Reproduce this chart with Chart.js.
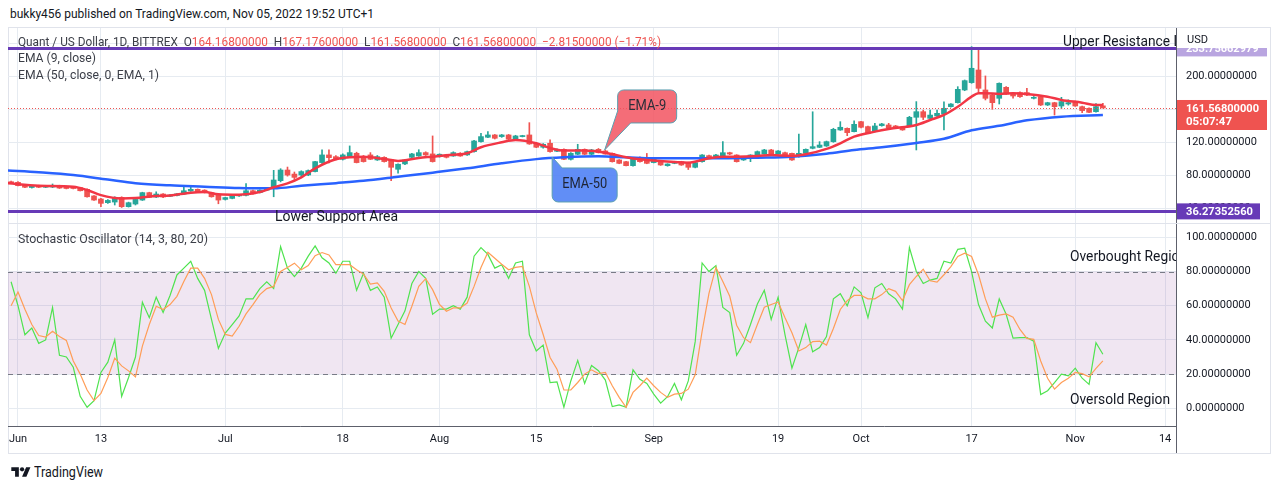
<!DOCTYPE html>
<html><head><meta charset="utf-8">
<script src="https://cdn.jsdelivr.net/npm/chart.js@4.4.0/dist/chart.umd.min.js"></script>
<style>
html,body{margin:0;padding:0;background:#fff;}
body{width:1280px;height:489px;position:relative;overflow:hidden;font-family:Roboto,"Open Sans",sans-serif;}
#hdr{position:absolute;left:10px;top:6px;font-size:13px;line-height:16px;color:#131722;white-space:nowrap;transform-origin:0 0;}
#frame{position:absolute;left:8px;top:27px;width:1261px;height:425px;border:1px solid #e0e3eb;}
canvas{position:absolute;}
#cA{left:8px;top:28px;}
#cB{left:8px;top:223px;}
#vsep{position:absolute;left:1176px;top:426px;width:1px;height:27px;background:#5d606b;}
#foot{position:absolute;left:11px;top:463px;height:17px;display:flex;align-items:center;}
#foot span{font-size:14px;color:#131722;margin-left:3px;white-space:nowrap;transform-origin:0 50%;display:inline-block;}
</style></head><body>
<div id="hdr">bukky456 published on TradingView.com, Nov 05, 2022 19:52 UTC+1</div>
<div id="frame"></div>
<canvas id="cA" width="1262" height="195"></canvas>
<canvas id="cB" width="1262" height="230"></canvas>
<div id="vsep"></div>
<div id="foot"><svg width="20" height="14" viewBox="0 0 36 26"><path d="M14 22H7V11H0V4h14v18zM28 22h-8l7.5-18h8L28 22z" fill="#131722"/><circle cx="20" cy="8" r="4" fill="#131722"/></svg><span id="tvtxt">TradingView</span></div>
<script>
// ===== DATA (day 0 = Jun 1 2022, first candle = May 31) =====
const firstDay = -1;
const opens = [
 72,71.5,68,65.2,67.5,65.5,65.8,67.5,66,66,65,
 63,55,51.3,46.8,47.6,53.3,42,45.2,50,59,
 53.7,57.3,54.5,55.5,57.3,61,63,62,58.9,56,
 50.8,52,55,55.7,61.3,59,62,64.2,73.5,86.4,
 81.5,80.4,80.4,84.5,95.4,104.7,102.6,99.4,102.6,106.7,
 102.6,104.7,98.6,101.8,98.6,87.3,93.8,101.8,103.4,107.5,
 105.9,102.6,104.7,103.4,106.7,104.7,108.7,120.8,126.1,128.9,
 126.9,128.9,123.7,126.9,128.9,118.8,114,118.8,109.1,111.5,
 99.4,105.5,111.5,105.5,111.5,109.5,106.6,98.6,96.5,91.7,
 100.6,100.6,95.4,96.5,91.7,94.5,96.5,95.3,89.7,96.5,
 103.4,102.6,103.4,107.4,104.6,98.6,100.6,103.8,105.8,110.7,
 105.8,107.4,106.6,102.6,106.6,112.7,113.9,115.5,120.8,134.9,
 136.9,132.9,145,139,132.9,140.2,141,139.8,137.5,139.8,
 150.3,157.1,149,151.9,154.3,163.2,168,183.4,192.3,207.6,
 183.4,177.3,173.3,186.6,178.5,180.2,180.2,173.3,175.3,165.2,
 168,164,166.4,169.3,163.2,161.2,157.1,164.168];
const highs = [
 73,72.5,68.5,67.5,68,67.8,69.5,68,66.8,66.5,65.5,
 63.5,55.5,52,50.5,54,54,47.5,51.5,59.5,59.5,
 60,58,56.5,58,66,66,63.5,62.5,59.5,56.5,
 53.5,56,57,70,62,62.5,64.5,86,88,90,
 84,85.5,86.5,97,111,111,104,106,115.6,108,
 104,107.5,104,102.5,99.5,94,99,106.5,111,108.5,
 127.7,106,105.5,108.5,107.5,109.5,122.5,131,133,129.5,
 129.5,129.5,128.5,128.5,143.8,119.5,118.5,123,112,112,
 107.5,117.6,112,111.5,112.5,110.5,107,99,97,101,
 102.5,106.5,100,97,94,97,97,96,96,105,
 104.5,105.5,120.8,108,105,103,105,109.5,111.5,111.5,
 110,108,107,130,112,157,120.8,121.5,137,145,
 137.5,146,145.5,139.5,143,143,143,140.5,138.5,151.5,
 169.3,159,159,159,169,167,187.4,195.5,235.9,235,
 200.4,178,192,187.5,179,181,185.4,175.5,176,168.5,
 168.5,174.5,171.5,170,163.8,161.8,167,167.176];
const lows = [
 70,67,65,64.5,65,65,65,64,63.5,63.5,61,
 53.5,49.5,42,46,44,41,41.5,44,49.5,53,
 53,53,54,55,57,60.5,59.5,58.5,53.5,45.5,
 50,51.5,54.5,55,57,58.5,61.5,54,72,79,
 75,78.5,79.5,84,94.5,95,98.5,98.5,102,95,
 96,99,98,96,73.5,82.5,93,101,103,104,
 96,102,101,103,103,104,108,120,125.5,124,
 126,123,123,126.5,117.5,113.5,113,108,108.5,99,
 98.5,105,105,105,107,105.5,96,94,91.5,91,
 96,94,95,92,91,94,92,87,89,96,
 102,102,103,105,96,98,96.5,103.5,105.5,104,
 105.5,103,98,102,106,112,113.5,115,120,134.5,
 128,132.5,137.5,130.5,132.5,139.5,136.5,136.5,134.5,139,
 110.7,147.5,148.5,151.5,135,162.5,167.5,182.5,191.5,179.4,
 171.3,160,166.4,178,173.5,174.5,176.5,172.5,164.5,164.5,
 153,161,165,163.5,156,155.8,156.5,161.568];
const closes = [
 71,67.5,65.5,67,65.5,67.2,67.5,64.5,64,64,61.3,
 54,50,46,49.6,52,42,46.8,50.8,59,53.3,
 57.3,53.7,56,57.5,61.3,63,60,59,54,50,
 53,55.5,56.5,61.3,57.5,62,64,74.3,86.4,80.3,
 77.5,84.5,85.7,96.6,104.7,101.4,99.4,104.7,107.5,95.4,
 96.6,99.4,102.6,96.6,89.7,93.4,98.6,105.9,107.5,104.7,
 96.6,105.5,101.8,107.5,103.4,108.7,121.6,126.9,128.9,124.9,
 128.9,123.7,127.7,128.1,118,114,117.6,108.7,111.5,99.4,
 106.7,111.5,105.5,110.7,107.5,105.8,96.5,94.5,91.7,100.6,
 96.5,94.5,99.4,92.5,93.7,96.5,92.5,89.7,95.3,104.6,
 102.6,104.6,107.4,105.8,96.5,102.6,104.6,108.7,110.7,104.6,
 109.5,103.4,98.6,106.6,111.5,114.7,116.7,120.8,135.7,138.2,
 131.7,141.8,138.2,130.9,139.8,142.2,137.5,136.9,135,150.3,
 157.1,150.3,153,155.1,161.2,166.4,184.2,194.7,209.7,185.4,
 173.3,168,191.5,178.5,176.1,175.3,177.3,174.5,165.2,168,
 163.2,169.3,168,164,158.4,156.3,163.2,161.568];

const ema9Days = [-1.5,3,8,10,12,15,17,20,22,25,27,29,32,35,37,39,41,43,46,48,50,53,55,58,60,62,65,67,70,72,75,77,79,82,85,88,90,92,95,97,100,102,104,107,109,112,114,117,119,121,124,126,130,132,134,136,138,139,140,142,144,146,149,151,154,156,157];
const ema9 = [70.3,67.4,66.2,62.2,56,52,52.5,54.9,55.5,59,59.7,57,56.5,59.7,65.5,70.2,77.5,88.5,99.5,101.8,102.6,99.8,97.4,101,102.6,104.3,106.7,114,120,122.8,118.8,113,110,110,107.4,102,99.4,97.8,96.1,95.3,100.6,102.6,102.6,103.4,104.6,103.4,105.4,112,118.8,126.8,132.9,136.1,141,147,153.1,163,175.3,179.4,179.4,178.6,179.4,178.6,175.3,171.3,168,165.2,165.2];
const ema50Days = [-1.5,3,8,13,17,22,27,32,37,41,46,50,55,60,65,70,75,79,84,88,92,97,102,107,112,117,121,125,130,134,138,142,146,151,157];
const ema50 = [85.8,83.6,80.3,74.8,70.5,67.8,66.2,64.6,64.2,67.3,70.5,73.3,78.2,83.2,88.5,94.6,99.6,101.8,103,101.8,100.6,100.6,100.6,101.4,102.6,106.2,110.7,114,119.2,124.2,134.5,140,146.6,151.1,153.1];

const stochK = [
 74,60,43,47,38,40,59,31,30,24,7,
 0.6,4.5,21,27,40,7,18,30,62,53,
 65,56,66,78,82,86,76,69,52,35,
 44,49,54,64,64,70,74,70,94.6,82,
 77,82,89,95,88,85,79,86,86,69,
 79,69,71,65,41,49,57,73,80,76,
 55,58,58,60,58,65,89,94,90,82,
 84,76,85,86,43,33.5,37,15,15.5,0.6,
 16,28,14.5,25,22,16.5,1,2,0.6,22.5,
 17,14.5,8.3,3,6.8,14.5,5,16,39,85,
 80,83.5,59,56,31,38,49,61,69,52,
 65,43,23.5,35.5,49,33,35.5,42,64,67,
 60,71,67.5,53,70.5,73,67,64,58,94,
 80,73,75,76,86,85,93,93.6,80,60.7,
 51,47,64,55,41,41.3,41.3,39.3,8,10.3,
 15,20,19,23.5,17.6,14,38.4,31.6];
const stochD = [
 60,68,58,49,42.6,41.7,45,42,39.7,27.7,20,
 10.7,4.5,8.7,18,29.3,24.8,21.9,18.4,36.4,49,
 59.7,57.8,60.7,65.5,74.2,82,82,76,66.5,52,
 43.2,42.2,48,55.2,60.7,66.5,70,71.3,80,82.4,
 84.9,81,83.5,89.3,91.1,89.7,84,84,84,81,
 78.5,72.7,73.3,68.4,58.7,51,49,59.7,71.3,75.8,
 69.4,60.7,56.8,58.7,58.7,61.6,71.3,82.4,91.3,87.8,
 84.3,81,82.4,83,71.3,55.8,43.2,29.7,22.9,10.7,
 10.7,15.1,20,22.5,20.3,21,13.2,6.4,0.6,9.3,
 13.2,17.6,13.2,9.3,6.4,8.3,8.7,11.2,19.6,45,
 67.4,82.4,74.2,65.5,48.6,41.3,38.4,49,59.1,60.7,
 62.2,52.9,44.2,33.5,35.5,39,39.3,37,46.7,57.8,
 63,66,66,64,64,66.5,70,68.4,63,72.3,
 77.1,81.4,74.6,73.8,78.1,82.9,88.8,90.7,88.8,78.1,
 64,53.3,54.5,55.2,53.3,46.1,40.9,40.3,27.7,17.6,
 11.2,15.1,17.6,21,20.3,18.4,23.4,27.7];

const tickDays = [0,12,30,47,61,75,92,110,122,138,153,166];
const tickLabels = ['Jun','13','Jul','18','Aug','15','Sep','19','Oct','17','Nov','14'];
const priceTicks = [40,80,120,160,200,240];
const stochTicks = [0,20,40,60,80,100];

const upperResistance = 233.75662979;
const lowerSupport = 36.2735256;
const stochUpper = 80, stochLower = 20;
const legendChange = -2.815, legendChangePct = -1.71;
const countdown = '05:07:47';
const ema9Callout = {day: 84.9, price: 110.7};
const ema50Callout = {day: 77.3, price: 102.2};

// view range
const xMin = -1.447, xMax = 167.58;
const priceMin = 22.2, priceMax = 258.5;
const stochMin = -10.35, stochMax = 107.8;

// ===== STYLE =====
const FONT = 'Roboto, "Open Sans", sans-serif';
const gridColor = '#e6ebf1';
const axisColor = '#5d606b';
const textColor = '#131722';
const upCol = '#26a69a', dnCol = '#ef5350';
Chart.defaults.font.family = FONT;
Chart.defaults.animation = false;

const dayIndex = opens.map((_, i) => firstDay + i);
const n = opens.length;
const candleColors = opens.map((o, i) => closes[i] >= o ? upCol : dnCol);
const lastOpen = opens[n-1], lastHigh = highs[n-1], lastLow = lows[n-1], lastClose = closes[n-1];

function fitText(ctx, text, x, y, w, font, color, align, refText) {
  ctx.save();
  ctx.font = font; ctx.textBaseline = 'middle'; ctx.textAlign = 'left';
  const m = ctx.measureText(text).width;
  const r = refText ? ctx.measureText(refText).width : m;
  const s = w / r;
  ctx.translate(x, y); ctx.scale(s, 1);
  ctx.fillStyle = color;
  const ox = align === 'center' ? -m/2 : (align === 'right' ? -m : 0);
  ctx.fillText(text, ox, 0);
  ctx.restore();
}
function drawRuns(ctx, runs, x, y, w, font) {
  ctx.save();
  ctx.font = font; ctx.textBaseline = 'middle'; ctx.textAlign = 'left';
  const total = runs.reduce((s, r) => s + ctx.measureText(r[0]).width, 0);
  ctx.translate(x, y); ctx.scale(w / total, 1);
  let cx = 0;
  runs.forEach(([t, c]) => { ctx.fillStyle = c; ctx.fillText(t, cx, 0); cx += ctx.measureText(t).width; });
  ctx.restore();
}
function noPad(s) { s.paddingTop = 0; s.paddingBottom = 0; s.paddingLeft = 0; s.paddingRight = 0; }

function xScale(showLabels) {
  return {
    type: 'linear', min: xMin, max: xMax, offset: false, bounds: 'data',
    afterBuildTicks: s => { s.ticks = tickDays.map(v => ({value: v})); },
    ticks: {display: showLabels, autoSkip: false, maxRotation: 0, padding: 7, color: textColor,
            font: {family: FONT, size: 11}, callback: (v, i) => tickLabels[i]},
    grid: {color: gridColor, drawTicks: false, offset: false},
    border: {display: showLabels, color: axisColor},
    afterFit: s => { s.height = showLabels ? 27 : 0; noPad(s); }
  };
}
function yScale(min, max, ticks) {
  return {
    position: 'right', min: min, max: max, bounds: 'data',
    afterBuildTicks: s => { s.ticks = ticks.map(v => ({value: v})); },
    ticks: {padding: 10, color: textColor, font: {family: FONT, size: 11}, callback: v => Number(v).toFixed(8)},
    grid: {color: gridColor, drawTicks: false},
    border: {display: true, color: axisColor},
    afterFit: s => { s.width = 94; noPad(s); }
  };
}

function calloutPath(ctx, pts) {
  ctx.beginPath();
  ctx.moveTo(pts[0][0], pts[0][1]);
  for (let i = 1; i < pts.length; i++) {
    const p = pts[i];
    if (p.length === 5) ctx.arcTo(p[0], p[1], p[2], p[3], p[4]);
    else ctx.lineTo(p[0], p[1]);
  }
  ctx.closePath();
}

const overlayA = {
  id: 'overlayA',
  afterDraw(chart) {
    const {ctx, chartArea: a, scales: {x, y}} = chart;
    const W = chart.width;
    const yUp = y.getPixelForValue(upperResistance);
    const yLo = y.getPixelForValue(lowerSupport);
    const yLast = y.getPixelForValue(lastClose);
    const red = '#ef5350', dark = '#131722', legendCol = '#3b3e47';
    ctx.save();
    ctx.beginPath(); ctx.rect(a.left, a.top, a.right - a.left, a.bottom - a.top); ctx.clip();
    ctx.strokeStyle = red; ctx.lineWidth = 1; ctx.setLineDash([1, 2]);
    ctx.beginPath(); ctx.moveTo(a.left, Math.round(yLast) + 0.5); ctx.lineTo(a.right, Math.round(yLast) + 0.5); ctx.stroke();
    ctx.setLineDash([]);
    ctx.strokeStyle = '#673ab7'; ctx.lineWidth = 3;
    [yUp, yLo].forEach(v => { ctx.beginPath(); ctx.moveTo(a.left, v); ctx.lineTo(a.right, v); ctx.stroke(); });
    fitText(ctx, 'Upper Resistance Level', a.left + 1055, yUp - 5.5, 107, '14px ' + FONT, dark, 'left', 'Upper Resistance');
    fitText(ctx, 'Lower Support Area', a.left + 267, yLo + 6.5, 123, '14px ' + FONT, dark, 'left');
    // legend
    const f = v => v.toFixed(8);
    drawRuns(ctx, [
      ['Quant / US Dollar, 1D, BITTREX  ', legendCol], ['O', legendCol], [f(lastOpen), red],
      ['  H', legendCol], [f(lastHigh), red], ['  L', legendCol], [f(lastLow), red],
      ['  C', legendCol], [f(lastClose), red],
      ['  \u2212' + Math.abs(legendChange).toFixed(8) + ' (\u2212' + Math.abs(legendChangePct).toFixed(2) + '%)', red]
    ], a.left + 10, 14.5, 643, '13px ' + FONT);
    fitText(ctx, 'EMA (9, close)', a.left + 10, 31, 78, '13px ' + FONT, legendCol, 'left');
    fitText(ctx, 'EMA (50, close, 0, EMA, 1)', a.left + 10, 47.5, 141, '13px ' + FONT, legendCol, 'left');

    // callout EMA-9
    const t9x = x.getPixelForValue(ema9Callout.day), t9y = y.getPixelForValue(ema9Callout.price);
    const b9x = t9x + 13, b9y = t9y - 60, w9 = 59, h9 = 33, r = 6;
    calloutPath(ctx, [
      [b9x + r, b9y], [b9x + w9 - r, b9y], [b9x + w9, b9y, b9x + w9, b9y + r, r],
      [b9x + w9, b9y + h9 - r], [b9x + w9, b9y + h9, b9x + w9 - r, b9y + h9, r],
      [b9x + 13, b9y + h9], [t9x, t9y], [b9x, b9y + h9 - 12], [b9x, b9y + r],
      [b9x, b9y, b9x + r, b9y, r]
    ]);
    ctx.fillStyle = 'rgba(242,84,96,0.85)'; ctx.fill();
    ctx.strokeStyle = '#5b9fb0'; ctx.lineWidth = 1; ctx.stroke();
    fitText(ctx, 'EMA-9', b9x + w9/2, b9y + 16.5, 38, '14px ' + FONT, '#2a2e39', 'center');

    // callout EMA-50
    const t5x = x.getPixelForValue(ema50Callout.day), t5y = y.getPixelForValue(ema50Callout.price);
    const b5x = t5x, b5y = t5y + 11, w5 = 65, h5 = 34;
    calloutPath(ctx, [
      [t5x, t5y], [b5x + 10, b5y], [b5x + w5 - r, b5y], [b5x + w5, b5y, b5x + w5, b5y + r, r],
      [b5x + w5, b5y + h5 - r], [b5x + w5, b5y + h5, b5x + w5 - r, b5y + h5, r],
      [b5x + r, b5y + h5], [b5x, b5y + h5, b5x, b5y + h5 - r, r]
    ]);
    ctx.fillStyle = 'rgba(80,130,245,0.9)'; ctx.fill();
    ctx.strokeStyle = '#5b9fb0'; ctx.lineWidth = 1; ctx.stroke();
    fitText(ctx, 'EMA-50', b5x + w5/2, b5y + 17, 45, '14px ' + FONT, '#1e2433', 'center');
    ctx.restore();

    // right axis overlays
    ctx.save();
    const ax = a.right + 1;
    ctx.fillStyle = '#b9a5e0';
    ctx.fillRect(ax, yUp - 8, 90, 16);
    ctx.fillStyle = '#ffffff'; ctx.font = 'bold 11px ' + FONT; ctx.textBaseline = 'middle';
    ctx.fillText(upperResistance.toFixed(8), ax + 9, yUp + 1);
    ctx.fillStyle = '#ffffff';
    ctx.fillRect(ax, 0, W - ax, Math.round(yUp));
    fitText(ctx, 'USD', ax + 10, 12, 21, '11px ' + FONT, dark, 'left');
    // last price label
    ctx.fillStyle = '#ef5350';
    ctx.fillRect(ax, yLast - 8, 90, 30);
    fitText(ctx, lastClose.toFixed(8), ax + 9, yLast + 1, 73, 'bold 11px ' + FONT, '#ffffff', 'left');
    fitText(ctx, countdown, ax + 9, yLast + 14.5, 46, 'bold 11px ' + FONT, '#ffffff', 'left');
    // lower support label
    ctx.fillStyle = '#673ab7';
    ctx.fillRect(ax, yLo - 8, 83, 16);
    fitText(ctx, lowerSupport.toFixed(8), ax + 9, yLo + 0.5, 67, 'bold 11px ' + FONT, '#ffffff', 'left');
    ctx.restore();
  }
};

const overlayB = {
  id: 'overlayB',
  beforeDatasetsDraw(chart) {
    const {ctx, chartArea: a, scales: {y}} = chart;
    const y80 = y.getPixelForValue(stochUpper), y20 = y.getPixelForValue(stochLower);
    ctx.save();
    ctx.fillStyle = 'rgba(149,76,163,0.14)';
    ctx.fillRect(a.left, y80, a.right - a.left, y20 - y80);
    ctx.strokeStyle = '#787b86'; ctx.lineWidth = 1; ctx.setLineDash([5, 4]);
    [y80, y20].forEach(v => { const yy = Math.round(v) + 0.5; ctx.beginPath(); ctx.moveTo(a.left, yy); ctx.lineTo(a.right, yy); ctx.stroke(); });
    ctx.restore();
  },
  afterDraw(chart) {
    const {ctx, chartArea: a} = chart;
    ctx.save();
    ctx.strokeStyle = '#e0e3eb'; ctx.lineWidth = 1;
    ctx.beginPath(); ctx.moveTo(0, 0.5); ctx.lineTo(chart.width, 0.5); ctx.stroke();
    ctx.beginPath(); ctx.rect(a.left, a.top, a.right - a.left, a.bottom - a.top); ctx.clip();
    fitText(ctx, 'Stochastic Oscillator (14, 3, 80, 20)', a.left + 10, 17, 190, '13px ' + FONT, '#3b3e47', 'left');
    fitText(ctx, 'Overbought Region', a.left + 1062, 34, 117, '14px ' + FONT, '#131722', 'left');
    fitText(ctx, 'Oversold Region', a.left + 1062, 177, 100, '14px ' + FONT, '#131722', 'left');
    ctx.restore();
  }
};

new Chart(document.getElementById('cA'), {
  type: 'bar',
  data: {datasets: [
    {type: 'line', label: 'EMA 9', data: ema9Days.map((d, i) => ({x: d, y: ema9[i]})), borderColor: '#f23645',
     borderWidth: 2.5, pointRadius: 0, cubicInterpolationMode: 'monotone', order: 0},
    {type: 'line', label: 'EMA 50', data: ema50Days.map((d, i) => ({x: d, y: ema50[i]})), borderColor: '#2962ff',
     borderWidth: 2.5, pointRadius: 0, cubicInterpolationMode: 'monotone', order: 0},
    {label: 'Bodies', data: dayIndex.map((d, i) => ({x: d, y: [opens[i], closes[i]]})), backgroundColor: candleColors,
     barThickness: 5, minBarLength: 1, grouped: false, borderWidth: 0, order: 1},
    {label: 'Wicks', data: dayIndex.map((d, i) => ({x: d, y: [lows[i], highs[i]]})), backgroundColor: candleColors,
     barThickness: 1, grouped: false, borderWidth: 0, order: 2}
  ]},
  options: {
    responsive: false, animation: false, events: [],
    layout: {padding: 0, autoPadding: false},
    plugins: {legend: {display: false}, tooltip: {enabled: false}},
    scales: {x: xScale(false), y: yScale(priceMin, priceMax, priceTicks)}
  },
  plugins: [overlayA]
});

new Chart(document.getElementById('cB'), {
  type: 'line',
  data: {datasets: [
    {label: '%D', data: dayIndex.map((d, i) => ({x: d, y: stochD[i]})), borderColor: '#ff9d57', borderWidth: 1.2, pointRadius: 0, order: 0},
    {label: '%K', data: dayIndex.map((d, i) => ({x: d, y: stochK[i]})), borderColor: '#4fe34f', borderWidth: 1.2, pointRadius: 0, order: 1}
  ]},
  options: {
    responsive: false, animation: false, events: [],
    layout: {padding: {top: 1, left: 0, right: 0, bottom: 0}, autoPadding: false},
    plugins: {legend: {display: false}, tooltip: {enabled: false}},
    scales: {x: xScale(true), y: yScale(stochMin, stochMax, stochTicks)}
  },
  plugins: [overlayB]
});

// fit HTML text widths
function fitEl(id, w) { const el = document.getElementById(id); const bw = el.getBoundingClientRect().width; el.style.transform = 'scaleX(' + (w / bw) + ')'; }
fitEl('hdr', 364);
fitEl('tvtxt', 69);
</script>
</body></html>
